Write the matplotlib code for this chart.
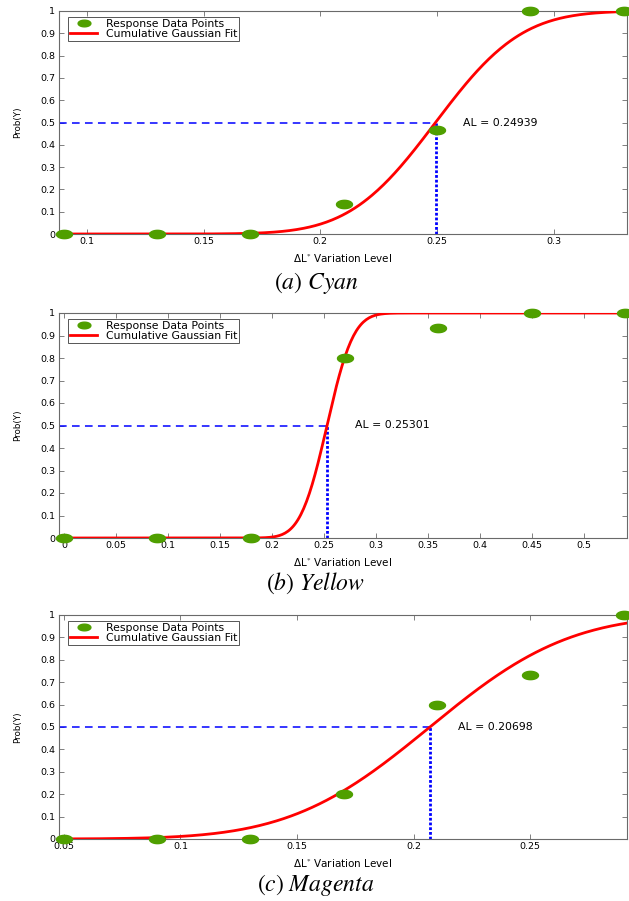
import math
import numpy as np
import matplotlib
matplotlib.use("Agg")
import matplotlib.pyplot as plt
from matplotlib.path import Path

plt.rcParams['font.family'] = ['DejaVu Sans']
plt.rcParams['mathtext.fontset'] = 'stix'

# ---------------- data ----------------
cyan_x = [0.09, 0.13, 0.17, 0.21, 0.25, 0.29, 0.33]
cyan_y = [0.0, 0.0, 0.0, 0.133, 0.467, 1.0, 1.0]
cyan_al = 0.24939
cyan_sigma = 0.029
cyan_xlim = (0.0878, 0.3315)
cyan_xticks = [0.1, 0.15, 0.2, 0.25, 0.3]
cyan_xticklabels = ['0.1', '0.15', '0.2', '0.25', '0.3']

yellow_x = [0.0, 0.09, 0.18, 0.27, 0.36, 0.45, 0.54]
yellow_y = [0.0, 0.0, 0.0, 0.8, 0.933, 1.0, 1.0]
yellow_al = 0.25301
yellow_sigma = 0.020
yellow_xlim = (-0.005, 0.5415)
yellow_xticks = [0, 0.05, 0.1, 0.15, 0.2, 0.25, 0.3, 0.35, 0.4, 0.45, 0.5]
yellow_xticklabels = ['0', '0.05', '0.1', '0.15', '0.2', '0.25', '0.3', '0.35', '0.4', '0.45', '0.5']

magenta_x = [0.05, 0.09, 0.13, 0.17, 0.21, 0.25, 0.29]
magenta_y = [0.0, 0.0, 0.0, 0.2, 0.6, 0.733, 1.0]
magenta_al = 0.20698
magenta_sigma = 0.047
magenta_xlim = (0.0478, 0.2915)
magenta_xticks = [0.05, 0.1, 0.15, 0.2, 0.25]
magenta_xticklabels = ['0.05', '0.1', '0.15', '0.2', '0.25']

yticks = [0, 0.1, 0.2, 0.3, 0.4, 0.5, 0.6, 0.7, 0.8, 0.9, 1.0]
yticklabels = ['0', '0.1', '0.2', '0.3', '0.4', '0.5', '0.6', '0.7', '0.8', '0.9', '1']

captions = [r'$\mathrm{(}\mathit{a}\mathrm{)}\ \mathit{Cyan}$',
            r'$\mathrm{(}\mathit{b}\mathrm{)}\ \mathit{Yellow}$',
            r'$\mathrm{(}\mathit{c}\mathrm{)}\ \mathit{Magenta}$']

legend_labels = ['Response Data Points', 'Cumulative Gaussian Fit']
xlabel_text = r'ΔL$^{*}$ Variation Level'
ylabel_text = 'Prob(Y)'

# ---------------- style ----------------
W, H = 629, 901
fig = plt.figure(figsize=(W / 100, H / 100), dpi=100)
fig.patch.set_facecolor('white')

green = '#4f9f00'
red = '#ff0000'
blue = '#0000ff'
spine_col = '#6a6a6a'

# ellipse marker (wider than tall)
t = np.linspace(0, 2 * np.pi, 60)
ell = Path(np.column_stack([np.cos(t) * 1.0, np.sin(t) * 0.52]), closed=True)

panels = [
    (cyan_x, cyan_y, cyan_al, cyan_sigma, cyan_xlim, cyan_xticks, cyan_xticklabels, 11, 234, 283),
    (yellow_x, yellow_y, yellow_al, yellow_sigma, yellow_xlim, yellow_xticks, yellow_xticklabels, 313, 538, 583),
    (magenta_x, magenta_y, magenta_al, magenta_sigma, magenta_xlim, magenta_xticks, magenta_xticklabels, 615, 839, 885),
]

ax_left_px, ax_right_px = 58.7, 627

for i, (xs, ys, al, sig, xlim, xt, xtl, top_px, bot_px, cap_px) in enumerate(panels):
    ax = fig.add_axes([ax_left_px / W, 1 - bot_px / H,
                       (ax_right_px - ax_left_px) / W, (bot_px - top_px) / H])
    ax.set_facecolor('white')
    # fitted cumulative gaussian from the read-off parameters
    xc = np.linspace(xlim[0], xlim[1], 400)
    yc = np.array([0.5 * (1 + math.erf((v - al) / (sig * math.sqrt(2)))) for v in xc])

    ax.plot([xlim[0], al], [0.5, 0.5], color=blue, lw=1.1, ls=(0, (5, 3.5)), zorder=2)
    ax.plot([al, al], [0, 0.5], color=blue, lw=2.0, ls=(0, (1, 0.7)), zorder=2)
    ax.plot(xc, yc, color=red, lw=2.0, zorder=3, label=legend_labels[1])
    ax.plot(xs, ys, ls='none', marker=ell, ms=11.5, color=green, mec=green,
            zorder=4, clip_on=False, label=legend_labels[0])

    ax.annotate(f'AL = {al:.5f}', xy=(al, 0.5), xytext=(20, 0), textcoords='offset points',
                va='center', ha='left', fontsize=7.8)

    ax.set_xlim(*xlim)
    ax.set_ylim(0, 1)
    ax.set_xticks(xt)
    ax.set_xticklabels(xtl)
    ax.set_yticks(yticks)
    ax.set_yticklabels(yticklabels)
    ax.tick_params(direction='in', length=3.5, width=0.6, colors=spine_col,
                   labelcolor='black', labelsize=6.8, top=True, right=True, pad=2.5)
    for s in ax.spines.values():
        s.set_color(spine_col)
        s.set_linewidth(0.8)

    ax.set_xlabel(xlabel_text, fontsize=7.5, labelpad=4)
    ax.set_ylabel(ylabel_text, fontsize=6.3, labelpad=13)

    handles, labels = ax.get_legend_handles_labels()
    leg = ax.legend(handles[::-1], labels[::-1], loc='upper left',
                    bbox_to_anchor=((68 - ax_left_px) / (ax_right_px - ax_left_px),
                                    1 - 6 / (bot_px - top_px)),
                    borderaxespad=0, fontsize=7.8, frameon=True, fancybox=False,
                    framealpha=1, edgecolor='#555555', labelspacing=0.0,
                    borderpad=0.2, handlelength=2.5, handletextpad=0.8, markerscale=0.8)
    leg.get_frame().set_linewidth(0.7)

    fig.text(316 / W, 1 - cap_px / H, captions[i], ha='center', va='center', fontsize=17)

fig.savefig('out.png', dpi=100, facecolor='white')
